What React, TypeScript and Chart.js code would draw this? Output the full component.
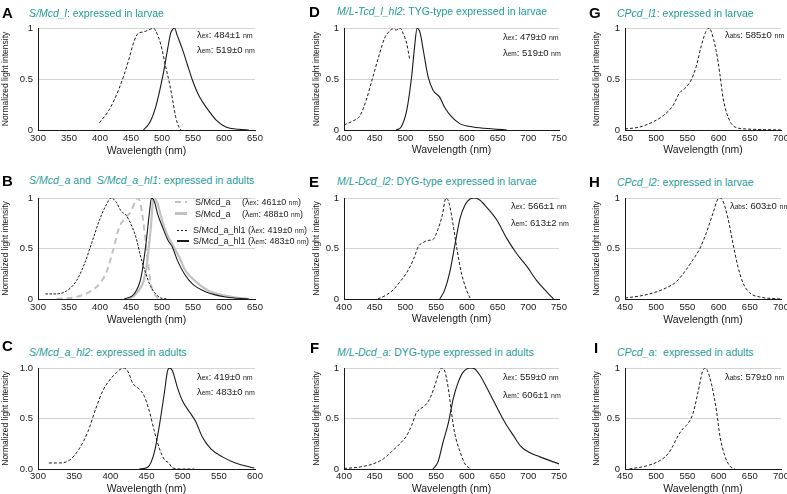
import React, { useEffect, useRef } from "react";
import Chart from "chart.js/auto";

const FONT = '"Liberation Sans", Arial, Helvetica, sans-serif';
const TEAL = "#1f9c97";
const INK = "#1a1a1a";
const GRAY = "#c2c2c2";

// ---------- data (wavelength nm / normalized intensity) ----------
const A_EX_X = [399, 415, 431, 445, 455, 462, 469, 474, 482, 486, 490, 498, 506, 513, 517, 522, 528, 531];
const A_EX_Y = [0.07, 0.2, 0.41, 0.66, 0.87, 0.95, 0.96, 0.97, 0.99, 1.0, 0.97, 0.84, 0.62, 0.43, 0.3, 0.13, 0.02, 0];
const A_EM_X = [470, 480, 490, 501, 509, 514, 518, 520, 525, 533, 541, 549, 560, 574, 587, 603, 624, 640];
const A_EM_Y = [0, 0.07, 0.23, 0.52, 0.79, 0.95, 0.99, 1.0, 0.92, 0.79, 0.64, 0.49, 0.33, 0.2, 0.1, 0.03, 0.007, 0];

const B_HL1_EX_X = [312, 329, 346, 362, 375, 388, 399, 409, 418, 426, 434, 442, 450, 458, 466, 474, 482, 490, 498, 510];
const B_HL1_EX_Y = [0.05, 0.05, 0.08, 0.18, 0.35, 0.58, 0.78, 0.92, 1.0, 0.96, 0.87, 0.83, 0.74, 0.61, 0.41, 0.25, 0.12, 0.05, 0.01, 0];
const B_A_EX_X = [330, 362, 383, 399, 410, 421, 431, 439, 450, 458, 461, 466, 471, 477, 482, 490, 500];
const B_A_EX_Y = [0, 0.02, 0.07, 0.15, 0.26, 0.48, 0.71, 0.79, 0.87, 0.98, 1.0, 0.92, 0.71, 0.38, 0.15, 0.03, 0];
const B_HL1_EM_X = [439, 455, 466, 474, 480, 483, 488, 493, 501, 509, 517, 525, 536, 549, 571, 603, 640];
const B_HL1_EM_Y = [0, 0.05, 0.21, 0.54, 0.87, 1.0, 0.96, 0.84, 0.71, 0.59, 0.51, 0.38, 0.25, 0.15, 0.07, 0.02, 0];
const B_A_EM_X = [445, 458, 474, 482, 486, 488, 493, 501, 509, 517, 528, 538, 555, 576, 614, 640];
const B_A_EM_Y = [0, 0.05, 0.28, 0.71, 0.99, 1.0, 0.94, 0.76, 0.63, 0.54, 0.41, 0.28, 0.17, 0.08, 0.02, 0];

const C_EX_X = [315, 330, 344, 357, 369, 380, 390, 399, 408, 418, 424, 431, 440, 447, 454, 461, 468, 475, 481, 486, 500, 516];
const C_EX_Y = [0.06, 0.06, 0.09, 0.2, 0.37, 0.6, 0.78, 0.88, 0.95, 1.0, 0.97, 0.85, 0.79, 0.72, 0.57, 0.37, 0.2, 0.09, 0.06, 0.01, 0, 0];
const C_EM_X = [440, 452, 461, 468, 475, 479, 482, 486, 493, 500, 509, 518, 527, 539, 555, 573, 599];
const C_EM_Y = [0, 0.02, 0.17, 0.44, 0.77, 0.97, 1.0, 0.97, 0.8, 0.67, 0.57, 0.47, 0.32, 0.2, 0.12, 0.06, 0.01];

const D_EX_X = [400, 415, 426, 436, 447, 458, 466, 474, 479, 485, 491, 496, 502, 507];
const D_EX_Y = [0.05, 0.09, 0.14, 0.29, 0.52, 0.75, 0.9, 0.97, 0.99, 0.98, 1.0, 0.95, 0.85, 0.69];
const D_EM_X = [485, 493, 502, 510, 515, 519, 521, 524, 530, 537, 545, 556, 564, 575, 589, 610, 643, 665];
const D_EM_Y = [0, 0.03, 0.19, 0.52, 0.82, 1.0, 0.99, 0.95, 0.75, 0.52, 0.39, 0.32, 0.22, 0.13, 0.06, 0.03, 0.01, 0];

const E_EX_X = [455, 469, 480, 491, 502, 513, 521, 529, 537, 545, 553, 560, 566, 571, 578, 584, 591, 600, 606];
const E_EX_Y = [0, 0.04, 0.09, 0.17, 0.26, 0.39, 0.52, 0.56, 0.58, 0.59, 0.69, 0.83, 1.0, 0.95, 0.72, 0.49, 0.26, 0.08, 0];
const E_EM_X = [556, 564, 572, 581, 589, 597, 605, 613, 621, 632, 649, 665, 681, 698, 714, 730, 741];
const E_EM_Y = [0, 0.09, 0.26, 0.55, 0.8, 0.93, 0.99, 1.0, 0.98, 0.91, 0.78, 0.6, 0.45, 0.32, 0.18, 0.07, 0];

const F_EX_X = [400, 426, 447, 464, 477, 491, 502, 510, 518, 523, 532, 540, 548, 555, 559, 564, 570, 575, 580, 589, 597, 605];
const F_EX_Y = [0.005, 0.02, 0.05, 0.1, 0.17, 0.25, 0.33, 0.43, 0.56, 0.59, 0.63, 0.7, 0.83, 0.96, 1.0, 0.97, 0.79, 0.56, 0.36, 0.17, 0.05, 0.005];
const F_EM_X = [545, 553, 561, 570, 578, 586, 594, 606, 613, 621, 632, 643, 654, 665, 676, 687, 703, 719, 750];
const F_EM_Y = [0, 0.07, 0.26, 0.46, 0.7, 0.86, 0.96, 1.0, 0.99, 0.93, 0.81, 0.68, 0.55, 0.43, 0.33, 0.23, 0.16, 0.12, 0.05];

const G_ABS_X = [450, 474, 495, 511, 527, 537, 548, 556, 564, 572, 580, 585, 588, 596, 602, 607, 615, 626, 645, 700];
const G_ABS_Y = [0.01, 0.03, 0.08, 0.14, 0.24, 0.36, 0.42, 0.49, 0.62, 0.82, 0.97, 1.0, 0.97, 0.78, 0.55, 0.32, 0.13, 0.03, 0.01, 0];

const H_ABS_X = [450, 474, 495, 516, 532, 548, 559, 570, 580, 591, 599, 603, 607, 615, 623, 631, 639, 650, 666, 700];
const H_ABS_Y = [0.01, 0.03, 0.06, 0.11, 0.17, 0.29, 0.39, 0.5, 0.65, 0.85, 0.99, 1.0, 0.97, 0.8, 0.55, 0.32, 0.16, 0.06, 0.02, 0];

const I_ABS_X = [457, 484, 505, 519, 527, 535, 543, 551, 559, 567, 574, 579, 583, 589, 597, 602, 610, 618, 626];
const I_ABS_Y = [0, 0.03, 0.08, 0.15, 0.23, 0.33, 0.4, 0.45, 0.55, 0.76, 0.96, 1.0, 0.96, 0.83, 0.56, 0.33, 0.13, 0.03, 0];

// ---------- styles of lines ----------
type Kind = "ex" | "em" | "grayEx" | "grayEm" | "ex2";
const STYLE: Record<Kind, { color: string; width: number; dash: number[] }> = {
  ex: { color: INK, width: 1, dash: [3, 2] },
  ex2: { color: INK, width: 1, dash: [2.5, 1.5] },
  em: { color: INK, width: 1.1, dash: [] },
  grayEx: { color: GRAY, width: 2, dash: [6, 4] },
  grayEm: { color: GRAY, width: 2.2, dash: [] },
};

type Series = { x: number[]; y: number[]; kind: Kind };
type PanelDef = {
  col: number;
  row: number;
  xMin: number;
  xMax: number;
  xTitleY: number;
  decimals?: boolean;
  series: Series[];
};

const COLS = [
  { aL: 38, aR: 255, cL: 0, cR: 268 },
  { aL: 344, aR: 559, cL: 311, cR: 576 },
  { aL: 625, aR: 781, cL: 591, cR: 787 },
];
const ROWS = [
  { aT: 28, aB: 130, cT: 18, tickPad: 2.5 },
  { aT: 198, aB: 299, cT: 188, tickPad: 3 },
  { aT: 368, aB: 469, cT: 358, tickPad: 2 },
];

const PANELS: PanelDef[] = [
  { col: 0, row: 0, xMin: 300, xMax: 650, xTitleY: 150, series: [
    { x: A_EX_X, y: A_EX_Y, kind: "ex" }, { x: A_EM_X, y: A_EM_Y, kind: "em" } ] },
  { col: 0, row: 1, xMin: 300, xMax: 650, xTitleY: 319, series: [
    { x: B_HL1_EX_X, y: B_HL1_EX_Y, kind: "ex2" }, { x: B_HL1_EM_X, y: B_HL1_EM_Y, kind: "em" },
    { x: B_A_EX_X, y: B_A_EX_Y, kind: "grayEx" }, { x: B_A_EM_X, y: B_A_EM_Y, kind: "grayEm" } ] },
  { col: 0, row: 2, xMin: 300, xMax: 600, xTitleY: 488, decimals: true, series: [
    { x: C_EX_X, y: C_EX_Y, kind: "ex" }, { x: C_EM_X, y: C_EM_Y, kind: "em" } ] },
  { col: 1, row: 0, xMin: 400, xMax: 750, xTitleY: 149, series: [
    { x: D_EX_X, y: D_EX_Y, kind: "ex" }, { x: D_EM_X, y: D_EM_Y, kind: "em" } ] },
  { col: 1, row: 1, xMin: 400, xMax: 750, xTitleY: 318, series: [
    { x: E_EX_X, y: E_EX_Y, kind: "ex" }, { x: E_EM_X, y: E_EM_Y, kind: "em" } ] },
  { col: 1, row: 2, xMin: 400, xMax: 750, xTitleY: 488, series: [
    { x: F_EX_X, y: F_EX_Y, kind: "ex" }, { x: F_EM_X, y: F_EM_Y, kind: "em" } ] },
  { col: 2, row: 0, xMin: 450, xMax: 700, xTitleY: 149, series: [
    { x: G_ABS_X, y: G_ABS_Y, kind: "ex" } ] },
  { col: 2, row: 1, xMin: 450, xMax: 700, xTitleY: 319, series: [
    { x: H_ABS_X, y: H_ABS_Y, kind: "ex" } ] },
  { col: 2, row: 2, xMin: 450, xMax: 700, xTitleY: 488, series: [
    { x: I_ABS_X, y: I_ABS_Y, kind: "ex" } ] },
];

function Panel({ def }: { def: PanelDef }) {
  const ref = useRef<HTMLCanvasElement>(null);
  const c = COLS[def.col];
  const r = ROWS[def.row];
  const width = c.cR - c.cL;
  const cBottom = Math.round(def.xTitleY + 6.5);
  const height = cBottom - r.cT;
  useEffect(() => {
    const canvas = ref.current;
    if (!canvas) return;
    const yW = c.aL - c.cL;
    const padTop = r.aT - r.cT;
    const padRight = c.cR - c.aR;
    const xH = cBottom - r.aB;
    const tickFont = { family: FONT, size: 9.5 };
    const chart = new Chart(canvas, {
      type: "line",
      data: {
        datasets: def.series.map((s) => ({
          data: s.x.map((x, i) => ({ x, y: s.y[i] })),
          borderColor: STYLE[s.kind].color,
          borderWidth: STYLE[s.kind].width,
          borderDash: STYLE[s.kind].dash,
          pointRadius: 0,
          fill: false,
          cubicInterpolationMode: "monotone" as const,
        })),
      },
      options: {
        responsive: false,
        animation: false,
        devicePixelRatio: 1,
        events: [],
        layout: { padding: { top: padTop, right: padRight, bottom: 0, left: 0 } },
        plugins: { legend: { display: false }, tooltip: { enabled: false } },
        scales: {
          x: {
            type: "linear",
            min: def.xMin,
            max: def.xMax,
            ticks: { stepSize: 50, font: tickFont, color: INK, padding: r.tickPad, maxRotation: 0, autoSkip: false },
            grid: { display: false, drawTicks: false },
            border: { display: true, color: INK, width: 1 },
            title: { display: true, text: "Wavelength (nm)", color: INK, font: { family: FONT, size: 10.5, lineHeight: 1.2 }, padding: 0 },
            afterFit: (s: any) => { s.height = xH; s.paddingLeft = 0; s.paddingRight = 0; },
          },
          y: {
            type: "linear",
            min: 0,
            max: 1,
            ticks: {
              stepSize: 0.5,
              font: tickFont,
              color: INK,
              padding: 5,
              callback: (v: any) => def.decimals ? Number(v).toFixed(1) : (v === 0 ? "0" : v === 1 ? "1" : "0.5"),
            },
            grid: {
              drawTicks: false,
              lineWidth: 1,
              color: (ctx: any) => (ctx.tick && ctx.tick.value === 0 ? "rgba(0,0,0,0)" : "#d4d4d4"),
            },
            border: { display: true, color: INK, width: 1 },
            title: { display: true, text: "Normalized light intensity", color: INK, font: { family: FONT, size: 8.5, lineHeight: 1.3 }, padding: 0.5 },
            afterFit: (s: any) => { s.width = yW; s.paddingTop = 0; s.paddingBottom = 0; },
          },
        },
      },
    } as any);
    return () => chart.destroy();
  }, []);
  return (
    <canvas
      ref={ref}
      width={width}
      height={height}
      style={{ position: "absolute", left: c.cL, top: r.cT, width, height }}
    />
  );
}

function Letter({ x, y, t }: { x: number; y: number; t: string }) {
  return (
    <div style={{ position: "absolute", left: x, top: y, transform: "translateY(-50%)", fontSize: 15, fontWeight: "bold", lineHeight: 1, color: "#000" }}>{t}</div>
  );
}

function Title({ x, y, children }: { x: number; y: number; children: any }) {
  return (
    <div style={{ position: "absolute", left: x, top: y, transform: "translateY(-50%)", fontSize: 10.5, lineHeight: 1, color: TEAL, whiteSpace: "pre" }}>{children}</div>
  );
}

function Lam({ x, y, sub, val }: { x: number; y: number; sub: string; val: string }) {
  return (
    <div style={{ position: "absolute", left: x, top: y, transform: "translateY(-50%)", fontSize: 9.5, lineHeight: 1, color: INK, whiteSpace: "pre" }}>
      λ<span style={{ fontSize: 6.5 }}>{sub}</span>: {val} <span style={{ fontSize: 7 }}>nm</span>
    </div>
  );
}

function Swatch({ x, y, kind }: { x: number; y: number; kind: Kind }) {
  const s = STYLE[kind];
  const dash = s.dash.length
    ? `repeating-linear-gradient(90deg, ${s.color} 0 ${s.dash[0]}px, transparent ${s.dash[0]}px ${s.dash[0] + s.dash[1]}px)`
    : s.color;
  return (
    <div style={{ position: "absolute", left: x, top: y - s.width / 2, width: 12, height: s.width, background: dash }} />
  );
}

function LegendText({ x, y, children }: { x: number; y: number; children: any }) {
  return (
    <div style={{ position: "absolute", left: x, top: y, transform: "translateY(-50%)", fontSize: 9, lineHeight: 1, color: INK, whiteSpace: "pre" }}>{children}</div>
  );
}

const sm = (t: string) => <span style={{ fontSize: 6.5 }}>{t}</span>;

export default function App() {
  return (
    <div style={{ position: "absolute", left: 0, top: 0, width: 787, height: 494, background: "#fff", fontFamily: FONT, overflow: "hidden" }}>
      {PANELS.map((p, i) => <Panel key={i} def={p} />)}

      <Letter x={2} y={12} t="A" />
      <Letter x={2} y={180} t="B" />
      <Letter x={2} y={345} t="C" />
      <Letter x={309} y={11} t="D" />
      <Letter x={309} y={181} t="E" />
      <Letter x={310} y={347} t="F" />
      <Letter x={589} y={12} t="G" />
      <Letter x={589} y={181} t="H" />
      <Letter x={594} y={347} t="I" />

      <Title x={29} y={13}><i>S/Mcd_l</i>: expressed in larvae</Title>
      <Title x={29} y={180}><i>S/Mcd_a</i> and  <i>S/Mcd_a_hl1</i>: expressed in adults</Title>
      <Title x={29} y={352}><i>S/Mcd_a_hl2</i>: expressed in adults</Title>
      <Title x={337} y={11}><i>M/L-Tcd_l_hl2</i>: TYG-type expressed in larvae</Title>
      <Title x={337} y={181}><i>M/L-Dcd_l2</i>: DYG-type expressed in larvae</Title>
      <Title x={337} y={352}><i>M/L-Dcd_a</i>: DYG-type expressed in adults</Title>
      <Title x={617} y={13}><i>CPcd_l1</i>: expressed in larvae</Title>
      <Title x={617} y={182}><i>CPcd_l2</i>: expressed in larvae</Title>
      <Title x={617} y={352}><i>CPcd_a</i>:  expressed in adults</Title>

      <Lam x={197} y={35} sub="ex" val="484±1" />
      <Lam x={197} y={50} sub="em" val="519±0" />
      <Lam x={197} y={377} sub="ex" val="419±0" />
      <Lam x={197} y={392} sub="em" val="483±0" />
      <Lam x={503} y={37} sub="ex" val="479±0" />
      <Lam x={503} y={53} sub="em" val="519±0" />
      <Lam x={511} y={206} sub="ex" val="566±1" />
      <Lam x={511} y={223} sub="em" val="613±2" />
      <Lam x={503} y={377} sub="ex" val="559±0" />
      <Lam x={503} y={395} sub="em" val="606±1" />
      <Lam x={725} y={35} sub="abs" val="585±0" />
      <Lam x={730} y={206} sub="abs" val="603±0" />
      <Lam x={725} y={377} sub="abs" val="579±0" />

      <Swatch x={175} y={202} kind="grayEx" />
      <LegendText x={195} y={202}>S/Mcd_a</LegendText>
      <LegendText x={242} y={202}>(λ{sm("ex")}: 461±0 {sm("nm")})</LegendText>
      <Swatch x={175} y={213.5} kind="grayEm" />
      <LegendText x={195} y={213.5}>S/Mcd_a</LegendText>
      <LegendText x={242} y={213.5}>(λ{sm("em")}: 488±0 {sm("nm")})</LegendText>
      <Swatch x={177} y={230} kind="ex2" />
      <LegendText x={193} y={230}>S/Mcd_a_hl1 (λ{sm("ex")}: 419±0 {sm("nm")})</LegendText>
      <Swatch x={177} y={241} kind="em" />
      <LegendText x={193} y={241}>S/Mcd_a_hl1 (λ{sm("em")}: 483±0 {sm("nm")})</LegendText>
    </div>
  );
}
